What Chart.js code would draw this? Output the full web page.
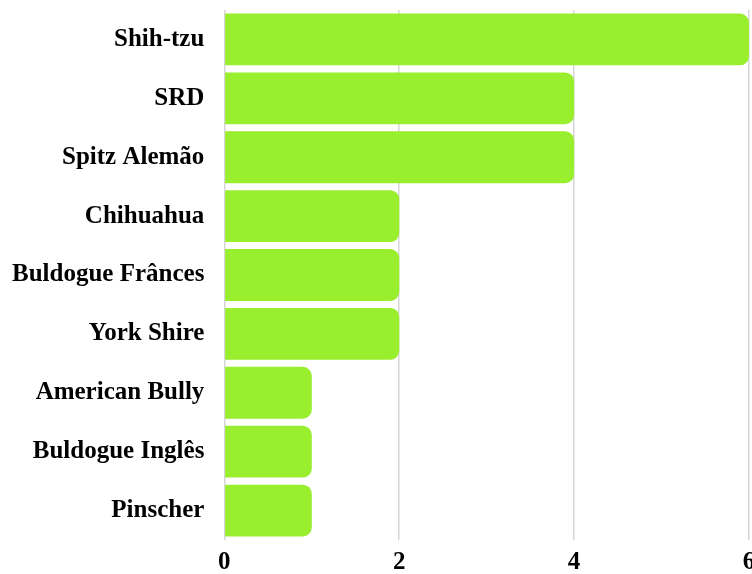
<!DOCTYPE html>
<html><head><meta charset="utf-8">
<script src="https://cdn.jsdelivr.net/npm/chart.js@4/dist/chart.umd.min.js"></script>
<style>html,body{margin:0;padding:0;overflow:hidden;background:#fff}</style>
</head><body><canvas id="c" width="752" height="574"></canvas>
<script>
const categories = ["Shih-tzu","SRD","Spitz Alemão","Chihuahua","Buldogue Frânces","York Shire","American Bully","Buldogue Inglês","Pinscher"];
const counts = [6,4,4,2,2,2,1,1,1];
const xTicks = [0,2,4,6];
const font = {family:"'Liberation Serif','Times New Roman',serif", size:25, weight:'bold'};
new Chart(document.getElementById('c'), {
  type:'bar',
  data:{labels:categories, datasets:[{data:counts, backgroundColor:'rgb(153,238,46)', borderRadius:9, borderSkipped:'start', barPercentage:0.88, categoryPercentage:1}]},
  options:{
    indexAxis:'y', responsive:false, animation:false,
    layout:{padding:{top:10,right:3,bottom:-12,left:0}},
    plugins:{legend:{display:false}, tooltip:{enabled:false}},
    scales:{
      x:{min:0,max:6,afterBuildTicks:s=>{s.ticks=xTicks.map(v=>({value:v}));},
        afterFit:s=>{s.paddingLeft=0;s.paddingRight=0;},
        grid:{color:'#d6d6d6',lineWidth:1.5,drawTicks:false},border:{display:false},
        ticks:{color:'#000',font:font,padding:8}},
      y:{afterFit:s=>{s.paddingTop=0;s.paddingBottom=0;},
        grid:{display:false},border:{display:false},ticks:{color:'#000',font:font,padding:12}}
    }
  }
});
</script></body></html>
